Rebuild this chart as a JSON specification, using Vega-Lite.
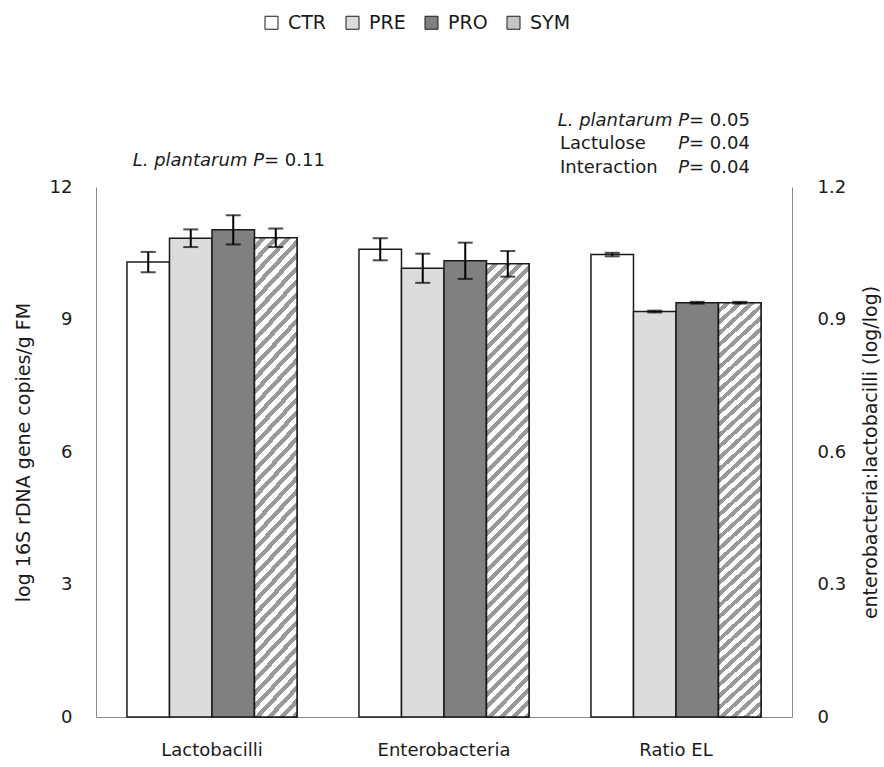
{
  "$schema": "https://vega.github.io/schema/vega-lite/v6.json",
  "width": 696,
  "height": 530,
  "autosize": {"type": "none"},
  "padding": {"left": 96, "top": 187, "right": 92, "bottom": 50},
  "background": "white",
  "config": {
    "font": "DejaVu Sans",
    "view": {"stroke": null},
    "axis": {"domainColor": "#8a8a8a", "domainWidth": 1, "ticks": false, "grid": false, "labelFont": "DejaVu Sans", "labelFontSize": 18, "labelColor": "#1a1a1a", "titleFont": "DejaVu Sans", "titleFontSize": 19, "titleFontWeight": "normal", "titleColor": "#1a1a1a"},
    "text": {"font": "DejaVu Sans", "fontSize": 18, "color": "#1a1a1a", "baseline": "middle"}
  },
  "datasets": {
    "bact": [
      {"cat": "Lactobacilli", "trt": "CTR", "mean": 10.30, "lo": 10.07, "hi": 10.53},
      {"cat": "Lactobacilli", "trt": "PRE", "mean": 10.84, "lo": 10.64, "hi": 11.04},
      {"cat": "Lactobacilli", "trt": "PRO", "mean": 11.03, "lo": 10.70, "hi": 11.36},
      {"cat": "Lactobacilli", "trt": "SYM", "mean": 10.85, "lo": 10.64, "hi": 11.06},
      {"cat": "Enterobacteria", "trt": "CTR", "mean": 10.59, "lo": 10.34, "hi": 10.84},
      {"cat": "Enterobacteria", "trt": "PRE", "mean": 10.16, "lo": 9.83, "hi": 10.49},
      {"cat": "Enterobacteria", "trt": "PRO", "mean": 10.33, "lo": 9.92, "hi": 10.74},
      {"cat": "Enterobacteria", "trt": "SYM", "mean": 10.26, "lo": 9.97, "hi": 10.55}
    ],
    "ratio": [
      {"cat": "Ratio EL", "trt": "CTR", "mean": 1.047, "lo": 1.043, "hi": 1.051},
      {"cat": "Ratio EL", "trt": "PRE", "mean": 0.918, "lo": 0.916, "hi": 0.920},
      {"cat": "Ratio EL", "trt": "PRO", "mean": 0.938, "lo": 0.936, "hi": 0.940},
      {"cat": "Ratio EL", "trt": "SYM", "mean": 0.938, "lo": 0.936, "hi": 0.940}
    ]
  },
  "layer": [
    {
      "layer": [
        {
          "data": {"name": "bact"},
          "mark": {"type": "bar", "stroke": "#1a1a1a", "strokeWidth": 1.5},
          "encoding": {
            "x": {"field": "cat", "type": "nominal", "title": null, "sort": null, "scale": {"domain": ["Lactobacilli", "Enterobacteria", "Ratio EL"], "paddingInner": 0.267, "paddingOuter": 0.1335}, "axis": {"labelAngle": 0, "labelPadding": 24, "orient": "bottom"}},
            "xOffset": {"field": "trt", "type": "nominal", "scale": {"domain": ["CTR", "PRE", "PRO", "SYM"], "paddingInner": 0, "paddingOuter": 0}},
            "y": {"field": "mean", "type": "quantitative", "scale": {"domain": [0, 12], "nice": false}, "axis": {"values": [0, 3, 6, 9, 12], "labelPadding": 24, "title": "log 16S rDNA gene copies/g FM", "titlePadding": 16, "orient": "left"}},
            "fill": {"field": "trt", "type": "nominal", "scale": {"domain": ["CTR", "PRE", "PRO", "SYM"], "range": ["#ffffff", "#dcdcdc", "#808080", "#c4c4c4"]}, "legend": {"orient": "none", "legendX": 166, "legendY": -174, "direction": "horizontal", "title": null, "symbolType": "square", "symbolSize": 169, "symbolStrokeColor": "#222", "symbolStrokeWidth": 1, "labelFontSize": 19, "labelFont": "DejaVu Sans", "labelColor": "#1a1a1a", "labelOffset": 7, "columnPadding": 16, "symbolOffset": 0}}
          }
        },
        {
          "data": {"name": "bact"},
          "transform": [{"filter": "datum.trt === 'SYM'"}],
          "mark": {"type": "bar", "stroke": "#1a1a1a", "strokeWidth": 1.5, "fill": {"gradient": "linear", "x1": 0, "y1": 0, "x2": 0.1024, "y2": 1.0848, "stops": [
                {"offset": 0, "color": "#fff"}, {"offset": 0.013, "color": "#fff"}, {"offset": 0.013, "color": "#999"}, {"offset": 0.025, "color": "#999"},
                {"offset": 0.025, "color": "#fff"}, {"offset": 0.038, "color": "#fff"}, {"offset": 0.038, "color": "#999"}, {"offset": 0.05, "color": "#999"},
                {"offset": 0.05, "color": "#fff"}, {"offset": 0.063, "color": "#fff"}, {"offset": 0.063, "color": "#999"}, {"offset": 0.075, "color": "#999"},
                {"offset": 0.075, "color": "#fff"}, {"offset": 0.088, "color": "#fff"}, {"offset": 0.088, "color": "#999"}, {"offset": 0.1, "color": "#999"},
                {"offset": 0.1, "color": "#fff"}, {"offset": 0.113, "color": "#fff"}, {"offset": 0.113, "color": "#999"}, {"offset": 0.125, "color": "#999"},
                {"offset": 0.125, "color": "#fff"}, {"offset": 0.138, "color": "#fff"}, {"offset": 0.138, "color": "#999"}, {"offset": 0.15, "color": "#999"},
                {"offset": 0.15, "color": "#fff"}, {"offset": 0.163, "color": "#fff"}, {"offset": 0.163, "color": "#999"}, {"offset": 0.175, "color": "#999"},
                {"offset": 0.175, "color": "#fff"}, {"offset": 0.188, "color": "#fff"}, {"offset": 0.188, "color": "#999"}, {"offset": 0.2, "color": "#999"},
                {"offset": 0.2, "color": "#fff"}, {"offset": 0.213, "color": "#fff"}, {"offset": 0.213, "color": "#999"}, {"offset": 0.225, "color": "#999"},
                {"offset": 0.225, "color": "#fff"}, {"offset": 0.238, "color": "#fff"}, {"offset": 0.238, "color": "#999"}, {"offset": 0.25, "color": "#999"},
                {"offset": 0.25, "color": "#fff"}, {"offset": 0.263, "color": "#fff"}, {"offset": 0.263, "color": "#999"}, {"offset": 0.275, "color": "#999"},
                {"offset": 0.275, "color": "#fff"}, {"offset": 0.288, "color": "#fff"}, {"offset": 0.288, "color": "#999"}, {"offset": 0.3, "color": "#999"},
                {"offset": 0.3, "color": "#fff"}, {"offset": 0.313, "color": "#fff"}, {"offset": 0.313, "color": "#999"}, {"offset": 0.325, "color": "#999"},
                {"offset": 0.325, "color": "#fff"}, {"offset": 0.338, "color": "#fff"}, {"offset": 0.338, "color": "#999"}, {"offset": 0.35, "color": "#999"},
                {"offset": 0.35, "color": "#fff"}, {"offset": 0.363, "color": "#fff"}, {"offset": 0.363, "color": "#999"}, {"offset": 0.375, "color": "#999"},
                {"offset": 0.375, "color": "#fff"}, {"offset": 0.388, "color": "#fff"}, {"offset": 0.388, "color": "#999"}, {"offset": 0.4, "color": "#999"},
                {"offset": 0.4, "color": "#fff"}, {"offset": 0.413, "color": "#fff"}, {"offset": 0.413, "color": "#999"}, {"offset": 0.425, "color": "#999"},
                {"offset": 0.425, "color": "#fff"}, {"offset": 0.438, "color": "#fff"}, {"offset": 0.438, "color": "#999"}, {"offset": 0.45, "color": "#999"},
                {"offset": 0.45, "color": "#fff"}, {"offset": 0.463, "color": "#fff"}, {"offset": 0.463, "color": "#999"}, {"offset": 0.475, "color": "#999"},
                {"offset": 0.475, "color": "#fff"}, {"offset": 0.488, "color": "#fff"}, {"offset": 0.488, "color": "#999"}, {"offset": 0.5, "color": "#999"},
                {"offset": 0.5, "color": "#fff"}, {"offset": 0.513, "color": "#fff"}, {"offset": 0.513, "color": "#999"}, {"offset": 0.525, "color": "#999"},
                {"offset": 0.525, "color": "#fff"}, {"offset": 0.538, "color": "#fff"}, {"offset": 0.538, "color": "#999"}, {"offset": 0.55, "color": "#999"},
                {"offset": 0.55, "color": "#fff"}, {"offset": 0.563, "color": "#fff"}, {"offset": 0.563, "color": "#999"}, {"offset": 0.575, "color": "#999"},
                {"offset": 0.575, "color": "#fff"}, {"offset": 0.588, "color": "#fff"}, {"offset": 0.588, "color": "#999"}, {"offset": 0.6, "color": "#999"},
                {"offset": 0.6, "color": "#fff"}, {"offset": 0.613, "color": "#fff"}, {"offset": 0.613, "color": "#999"}, {"offset": 0.625, "color": "#999"},
                {"offset": 0.625, "color": "#fff"}, {"offset": 0.638, "color": "#fff"}, {"offset": 0.638, "color": "#999"}, {"offset": 0.65, "color": "#999"},
                {"offset": 0.65, "color": "#fff"}, {"offset": 0.663, "color": "#fff"}, {"offset": 0.663, "color": "#999"}, {"offset": 0.675, "color": "#999"},
                {"offset": 0.675, "color": "#fff"}, {"offset": 0.688, "color": "#fff"}, {"offset": 0.688, "color": "#999"}, {"offset": 0.7, "color": "#999"},
                {"offset": 0.7, "color": "#fff"}, {"offset": 0.713, "color": "#fff"}, {"offset": 0.713, "color": "#999"}, {"offset": 0.725, "color": "#999"},
                {"offset": 0.725, "color": "#fff"}, {"offset": 0.738, "color": "#fff"}, {"offset": 0.738, "color": "#999"}, {"offset": 0.75, "color": "#999"},
                {"offset": 0.75, "color": "#fff"}, {"offset": 0.763, "color": "#fff"}, {"offset": 0.763, "color": "#999"}, {"offset": 0.775, "color": "#999"},
                {"offset": 0.775, "color": "#fff"}, {"offset": 0.788, "color": "#fff"}, {"offset": 0.788, "color": "#999"}, {"offset": 0.8, "color": "#999"},
                {"offset": 0.8, "color": "#fff"}, {"offset": 0.813, "color": "#fff"}, {"offset": 0.813, "color": "#999"}, {"offset": 0.825, "color": "#999"},
                {"offset": 0.825, "color": "#fff"}, {"offset": 0.838, "color": "#fff"}, {"offset": 0.838, "color": "#999"}, {"offset": 0.85, "color": "#999"},
                {"offset": 0.85, "color": "#fff"}, {"offset": 0.863, "color": "#fff"}, {"offset": 0.863, "color": "#999"}, {"offset": 0.875, "color": "#999"},
                {"offset": 0.875, "color": "#fff"}, {"offset": 0.888, "color": "#fff"}, {"offset": 0.888, "color": "#999"}, {"offset": 0.9, "color": "#999"},
                {"offset": 0.9, "color": "#fff"}, {"offset": 0.913, "color": "#fff"}, {"offset": 0.913, "color": "#999"}, {"offset": 0.925, "color": "#999"},
                {"offset": 0.925, "color": "#fff"}, {"offset": 0.938, "color": "#fff"}, {"offset": 0.938, "color": "#999"}, {"offset": 0.95, "color": "#999"},
                {"offset": 0.95, "color": "#fff"}, {"offset": 0.963, "color": "#fff"}, {"offset": 0.963, "color": "#999"}, {"offset": 0.975, "color": "#999"},
                {"offset": 0.975, "color": "#fff"}, {"offset": 0.988, "color": "#fff"}, {"offset": 0.988, "color": "#999"}, {"offset": 1, "color": "#999"}
              ]}},
          "encoding": {
            "x": {"field": "cat", "type": "nominal", "sort": null},
            "xOffset": {"field": "trt", "type": "nominal"},
            "y": {"field": "mean", "type": "quantitative"}
          }
        },
        {
          "data": {"name": "bact"},
          "mark": {"type": "rule", "strokeWidth": 2, "color": "black"},
          "encoding": {
            "x": {"field": "cat", "type": "nominal", "sort": null},
            "xOffset": {"field": "trt", "type": "nominal"},
            "y": {"field": "lo", "type": "quantitative"},
            "y2": {"field": "hi"}
          }
        },
        {
          "data": {"name": "bact"},
          "mark": {"type": "tick", "orient": "horizontal", "size": 15, "thickness": 2, "color": "black"},
          "encoding": {
            "x": {"field": "cat", "type": "nominal", "sort": null},
            "xOffset": {"field": "trt", "type": "nominal"},
            "y": {"field": "lo", "type": "quantitative"}
          }
        },
        {
          "data": {"name": "bact"},
          "mark": {"type": "tick", "orient": "horizontal", "size": 15, "thickness": 2, "color": "black"},
          "encoding": {
            "x": {"field": "cat", "type": "nominal", "sort": null},
            "xOffset": {"field": "trt", "type": "nominal"},
            "y": {"field": "hi", "type": "quantitative"}
          }
        },
        {
          "data": {"values": [{}]},
          "mark": {"type": "text", "text": "L. plantarum P", "fontStyle": "italic", "align": "right", "dx": 52},
          "encoding": {"x": {"datum": "Lactobacilli", "type": "nominal"}, "y": {"datum": 12.59, "type": "quantitative"}}
        },
        {
          "data": {"values": [{}]},
          "mark": {"type": "text", "text": "= 0.11", "align": "left", "dx": 52},
          "encoding": {"x": {"datum": "Lactobacilli", "type": "nominal"}, "y": {"datum": 12.59, "type": "quantitative"}}
        },
        {
          "data": {"values": [{}]},
          "mark": {"type": "text", "text": "L. plantarum P", "fontStyle": "italic", "align": "right", "dx": 13},
          "encoding": {"x": {"datum": "Ratio EL", "type": "nominal"}, "y": {"datum": 13.5, "type": "quantitative"}}
        },
        {
          "data": {"values": [{}]},
          "mark": {"type": "text", "text": "= 0.05", "align": "left", "dx": 13},
          "encoding": {"x": {"datum": "Ratio EL", "type": "nominal"}, "y": {"datum": 13.5, "type": "quantitative"}}
        },
        {
          "data": {"values": [{}]},
          "mark": {"type": "text", "text": "Lactulose", "align": "left", "dx": -116},
          "encoding": {"x": {"datum": "Ratio EL", "type": "nominal"}, "y": {"datum": 12.97, "type": "quantitative"}}
        },
        {
          "data": {"values": [{}]},
          "mark": {"type": "text", "text": "P", "fontStyle": "italic", "align": "right", "dx": 13},
          "encoding": {"x": {"datum": "Ratio EL", "type": "nominal"}, "y": {"datum": 12.97, "type": "quantitative"}}
        },
        {
          "data": {"values": [{}]},
          "mark": {"type": "text", "text": "= 0.04", "align": "left", "dx": 13},
          "encoding": {"x": {"datum": "Ratio EL", "type": "nominal"}, "y": {"datum": 12.97, "type": "quantitative"}}
        },
        {
          "data": {"values": [{}]},
          "mark": {"type": "text", "text": "Interaction", "align": "left", "dx": -116},
          "encoding": {"x": {"datum": "Ratio EL", "type": "nominal"}, "y": {"datum": 12.44, "type": "quantitative"}}
        },
        {
          "data": {"values": [{}]},
          "mark": {"type": "text", "text": "P", "fontStyle": "italic", "align": "right", "dx": 13},
          "encoding": {"x": {"datum": "Ratio EL", "type": "nominal"}, "y": {"datum": 12.44, "type": "quantitative"}}
        },
        {
          "data": {"values": [{}]},
          "mark": {"type": "text", "text": "= 0.04", "align": "left", "dx": 13},
          "encoding": {"x": {"datum": "Ratio EL", "type": "nominal"}, "y": {"datum": 12.44, "type": "quantitative"}}
        }
      ]
    },
    {
      "data": {"name": "ratio"},
      "layer": [
        {
          "mark": {"type": "bar", "stroke": "#1a1a1a", "strokeWidth": 1.5},
          "encoding": {
            "x": {"field": "cat", "type": "nominal", "sort": null},
            "xOffset": {"field": "trt", "type": "nominal"},
            "y": {"field": "mean", "type": "quantitative", "scale": {"domain": [0, 1.2], "nice": false}, "axis": {"orient": "right", "values": [0, 0.3, 0.6, 0.9, 1.2], "format": ".1~f", "labelPadding": 25, "title": "enterobacteria:lactobacilli (log/log)", "titlePadding": 16, "titleAngle": 270, "titleBaseline": "top"}},
            "fill": {"field": "trt", "type": "nominal"}
          }
        },
        {
          "transform": [{"filter": "datum.trt === 'SYM'"}],
          "mark": {"type": "bar", "stroke": "#1a1a1a", "strokeWidth": 1.5, "fill": {"gradient": "linear", "x1": 0, "y1": 0, "x2": 0.1024, "y2": 1.0848, "stops": [
                {"offset": 0, "color": "#fff"}, {"offset": 0.013, "color": "#fff"}, {"offset": 0.013, "color": "#999"}, {"offset": 0.025, "color": "#999"},
                {"offset": 0.025, "color": "#fff"}, {"offset": 0.038, "color": "#fff"}, {"offset": 0.038, "color": "#999"}, {"offset": 0.05, "color": "#999"},
                {"offset": 0.05, "color": "#fff"}, {"offset": 0.063, "color": "#fff"}, {"offset": 0.063, "color": "#999"}, {"offset": 0.075, "color": "#999"},
                {"offset": 0.075, "color": "#fff"}, {"offset": 0.088, "color": "#fff"}, {"offset": 0.088, "color": "#999"}, {"offset": 0.1, "color": "#999"},
                {"offset": 0.1, "color": "#fff"}, {"offset": 0.113, "color": "#fff"}, {"offset": 0.113, "color": "#999"}, {"offset": 0.125, "color": "#999"},
                {"offset": 0.125, "color": "#fff"}, {"offset": 0.138, "color": "#fff"}, {"offset": 0.138, "color": "#999"}, {"offset": 0.15, "color": "#999"},
                {"offset": 0.15, "color": "#fff"}, {"offset": 0.163, "color": "#fff"}, {"offset": 0.163, "color": "#999"}, {"offset": 0.175, "color": "#999"},
                {"offset": 0.175, "color": "#fff"}, {"offset": 0.188, "color": "#fff"}, {"offset": 0.188, "color": "#999"}, {"offset": 0.2, "color": "#999"},
                {"offset": 0.2, "color": "#fff"}, {"offset": 0.213, "color": "#fff"}, {"offset": 0.213, "color": "#999"}, {"offset": 0.225, "color": "#999"},
                {"offset": 0.225, "color": "#fff"}, {"offset": 0.238, "color": "#fff"}, {"offset": 0.238, "color": "#999"}, {"offset": 0.25, "color": "#999"},
                {"offset": 0.25, "color": "#fff"}, {"offset": 0.263, "color": "#fff"}, {"offset": 0.263, "color": "#999"}, {"offset": 0.275, "color": "#999"},
                {"offset": 0.275, "color": "#fff"}, {"offset": 0.288, "color": "#fff"}, {"offset": 0.288, "color": "#999"}, {"offset": 0.3, "color": "#999"},
                {"offset": 0.3, "color": "#fff"}, {"offset": 0.313, "color": "#fff"}, {"offset": 0.313, "color": "#999"}, {"offset": 0.325, "color": "#999"},
                {"offset": 0.325, "color": "#fff"}, {"offset": 0.338, "color": "#fff"}, {"offset": 0.338, "color": "#999"}, {"offset": 0.35, "color": "#999"},
                {"offset": 0.35, "color": "#fff"}, {"offset": 0.363, "color": "#fff"}, {"offset": 0.363, "color": "#999"}, {"offset": 0.375, "color": "#999"},
                {"offset": 0.375, "color": "#fff"}, {"offset": 0.388, "color": "#fff"}, {"offset": 0.388, "color": "#999"}, {"offset": 0.4, "color": "#999"},
                {"offset": 0.4, "color": "#fff"}, {"offset": 0.413, "color": "#fff"}, {"offset": 0.413, "color": "#999"}, {"offset": 0.425, "color": "#999"},
                {"offset": 0.425, "color": "#fff"}, {"offset": 0.438, "color": "#fff"}, {"offset": 0.438, "color": "#999"}, {"offset": 0.45, "color": "#999"},
                {"offset": 0.45, "color": "#fff"}, {"offset": 0.463, "color": "#fff"}, {"offset": 0.463, "color": "#999"}, {"offset": 0.475, "color": "#999"},
                {"offset": 0.475, "color": "#fff"}, {"offset": 0.488, "color": "#fff"}, {"offset": 0.488, "color": "#999"}, {"offset": 0.5, "color": "#999"},
                {"offset": 0.5, "color": "#fff"}, {"offset": 0.513, "color": "#fff"}, {"offset": 0.513, "color": "#999"}, {"offset": 0.525, "color": "#999"},
                {"offset": 0.525, "color": "#fff"}, {"offset": 0.538, "color": "#fff"}, {"offset": 0.538, "color": "#999"}, {"offset": 0.55, "color": "#999"},
                {"offset": 0.55, "color": "#fff"}, {"offset": 0.563, "color": "#fff"}, {"offset": 0.563, "color": "#999"}, {"offset": 0.575, "color": "#999"},
                {"offset": 0.575, "color": "#fff"}, {"offset": 0.588, "color": "#fff"}, {"offset": 0.588, "color": "#999"}, {"offset": 0.6, "color": "#999"},
                {"offset": 0.6, "color": "#fff"}, {"offset": 0.613, "color": "#fff"}, {"offset": 0.613, "color": "#999"}, {"offset": 0.625, "color": "#999"},
                {"offset": 0.625, "color": "#fff"}, {"offset": 0.638, "color": "#fff"}, {"offset": 0.638, "color": "#999"}, {"offset": 0.65, "color": "#999"},
                {"offset": 0.65, "color": "#fff"}, {"offset": 0.663, "color": "#fff"}, {"offset": 0.663, "color": "#999"}, {"offset": 0.675, "color": "#999"},
                {"offset": 0.675, "color": "#fff"}, {"offset": 0.688, "color": "#fff"}, {"offset": 0.688, "color": "#999"}, {"offset": 0.7, "color": "#999"},
                {"offset": 0.7, "color": "#fff"}, {"offset": 0.713, "color": "#fff"}, {"offset": 0.713, "color": "#999"}, {"offset": 0.725, "color": "#999"},
                {"offset": 0.725, "color": "#fff"}, {"offset": 0.738, "color": "#fff"}, {"offset": 0.738, "color": "#999"}, {"offset": 0.75, "color": "#999"},
                {"offset": 0.75, "color": "#fff"}, {"offset": 0.763, "color": "#fff"}, {"offset": 0.763, "color": "#999"}, {"offset": 0.775, "color": "#999"},
                {"offset": 0.775, "color": "#fff"}, {"offset": 0.788, "color": "#fff"}, {"offset": 0.788, "color": "#999"}, {"offset": 0.8, "color": "#999"},
                {"offset": 0.8, "color": "#fff"}, {"offset": 0.813, "color": "#fff"}, {"offset": 0.813, "color": "#999"}, {"offset": 0.825, "color": "#999"},
                {"offset": 0.825, "color": "#fff"}, {"offset": 0.838, "color": "#fff"}, {"offset": 0.838, "color": "#999"}, {"offset": 0.85, "color": "#999"},
                {"offset": 0.85, "color": "#fff"}, {"offset": 0.863, "color": "#fff"}, {"offset": 0.863, "color": "#999"}, {"offset": 0.875, "color": "#999"},
                {"offset": 0.875, "color": "#fff"}, {"offset": 0.888, "color": "#fff"}, {"offset": 0.888, "color": "#999"}, {"offset": 0.9, "color": "#999"},
                {"offset": 0.9, "color": "#fff"}, {"offset": 0.913, "color": "#fff"}, {"offset": 0.913, "color": "#999"}, {"offset": 0.925, "color": "#999"},
                {"offset": 0.925, "color": "#fff"}, {"offset": 0.938, "color": "#fff"}, {"offset": 0.938, "color": "#999"}, {"offset": 0.95, "color": "#999"},
                {"offset": 0.95, "color": "#fff"}, {"offset": 0.963, "color": "#fff"}, {"offset": 0.963, "color": "#999"}, {"offset": 0.975, "color": "#999"},
                {"offset": 0.975, "color": "#fff"}, {"offset": 0.988, "color": "#fff"}, {"offset": 0.988, "color": "#999"}, {"offset": 1, "color": "#999"}
              ]}},
          "encoding": {
            "x": {"field": "cat", "type": "nominal", "sort": null},
            "xOffset": {"field": "trt", "type": "nominal"},
            "y": {"field": "mean", "type": "quantitative"}
          }
        },
        {
          "mark": {"type": "rule", "strokeWidth": 2, "color": "black"},
          "encoding": {
            "x": {"field": "cat", "type": "nominal", "sort": null},
            "xOffset": {"field": "trt", "type": "nominal"},
            "y": {"field": "lo", "type": "quantitative"},
            "y2": {"field": "hi"}
          }
        },
        {
          "mark": {"type": "tick", "orient": "horizontal", "size": 15, "thickness": 2, "color": "black"},
          "encoding": {
            "x": {"field": "cat", "type": "nominal", "sort": null},
            "xOffset": {"field": "trt", "type": "nominal"},
            "y": {"field": "lo", "type": "quantitative"}
          }
        },
        {
          "mark": {"type": "tick", "orient": "horizontal", "size": 15, "thickness": 2, "color": "black"},
          "encoding": {
            "x": {"field": "cat", "type": "nominal", "sort": null},
            "xOffset": {"field": "trt", "type": "nominal"},
            "y": {"field": "hi", "type": "quantitative"}
          }
        }
      ]
    }
  ],
  "resolve": {"scale": {"y": "independent"}, "axis": {"y": "independent"}}
}
